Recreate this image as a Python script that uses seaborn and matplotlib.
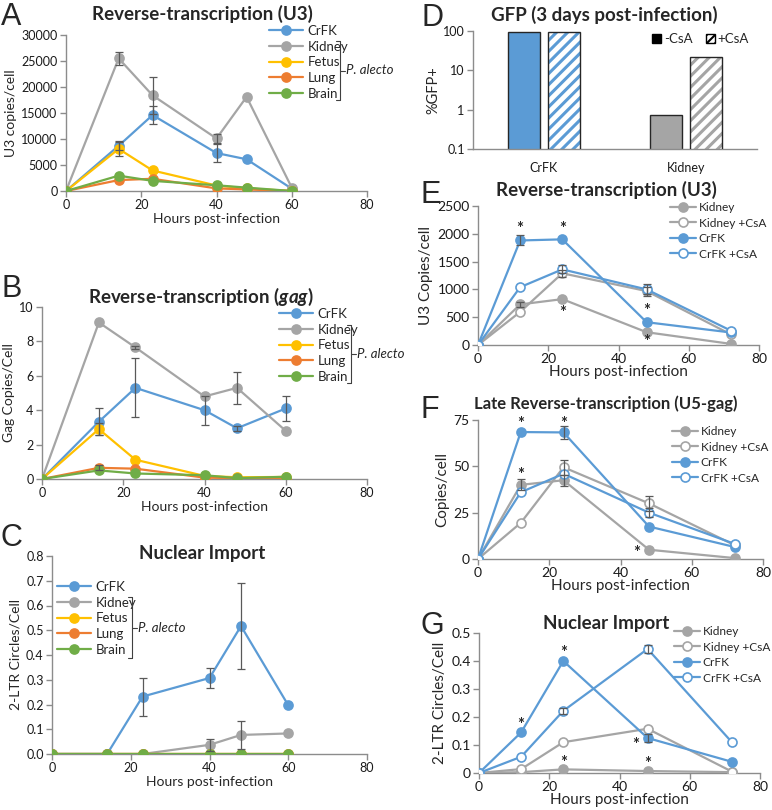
import numpy as np
import pandas as pd
import matplotlib
matplotlib.use("Agg")
import matplotlib.pyplot as plt
import matplotlib.patches as mpatches
from matplotlib.lines import Line2D
import seaborn as sns

sns.set_style("white")
plt.rcParams['font.family'] = ['Lato', 'DejaVu Sans']
plt.rcParams['mathtext.fontset'] = 'custom'
plt.rcParams['mathtext.rm'] = 'Lato'
plt.rcParams['mathtext.bf'] = 'Lato:bold'
plt.rcParams['mathtext.it'] = 'Lato:italic'
plt.rcParams['mathtext.bfit'] = 'Lato:bold:italic'
plt.rcParams['hatch.linewidth'] = 2.2

# colores tipo Excel
BLUE = '#5B9BD5'
GREY = '#A5A5A5'
YELLOW = '#FFC000'
ORANGE = '#ED7D31'
GREEN = '#70AD47'
ERR = '#595959'
AXC = '#8C8C8C'

# ---------------- datos ----------------
tissues = ['CrFK', 'Kidney', 'Fetus', 'Lung', 'Brain']
tissue_colors = [BLUE, GREY, YELLOW, ORANGE, GREEN]
hours_abc = [0, 14, 23, 40, 48, 60]

# Panel A: U3 copias/celula
u3_a = {
    'CrFK':   [0, 8700, 14600, 7300, 6100, 450],
    'Kidney': [0, 25500, 18400, 10100, 18100, 650],
    'Fetus':  [0, 8100, 3950, 1050, 500, 0],
    'Lung':   [0, 2100, 2350, 500, 300, 0],
    'Brain':  [0, 2950, 1950, 1100, 650, 0],
}
u3_a_err = {
    'CrFK':   [0, 900, 1700, 1700, 0, 0],
    'Kidney': [0, 1300, 3500, 800, 0, 0],
    'Fetus':  [0, 1300, 0, 0, 0, 0],
}

# Panel B: gag copias/celula
gag_b = {
    'CrFK':   [0, 3.33, 5.3, 4.0, 2.95, 4.1],
    'Kidney': [0, 9.1, 7.65, 4.8, 5.3, 2.8],
    'Fetus':  [0, 2.9, 1.12, 0.18, 0.1, 0.12],
    'Lung':   [0, 0.65, 0.6, 0.08, 0.05, 0.02],
    'Brain':  [0, 0.5, 0.32, 0.22, 0.05, 0.13],
}
gag_b_err = {
    'CrFK':   [0, 0.8, 1.72, 0.85, 0.15, 0.7],
    'Kidney': [0, 0, 0.1, 0, 0.95, 0],
    'Fetus':  [0, 0.35, 0, 0, 0, 0],
    'Lung':   [0, 0.15, 0, 0, 0, 0],
}

# Panel C: 2-LTR
ltr_c = {
    'CrFK':   [0, 0, 0.232, 0.307, 0.517, 0.197],
    'Kidney': [0, 0, 0, 0.037, 0.077, 0.083],
    'Fetus':  [0, 0, 0, 0, 0, 0],
    'Lung':   [0, 0, 0, 0, 0, 0],
    'Brain':  [0, 0, 0, 0, 0, 0],
}
ltr_c_err = {
    'CrFK':   [0, 0, 0.077, 0.04, 0.173, 0],
    'Kidney': [0, 0, 0, 0.025, 0.055, 0],
}

# Panel D: %GFP+
gfp_cells = ['CrFK', 'CrFK', 'Kidney', 'Kidney']
gfp_treat = ['-CsA', '+CsA', '-CsA', '+CsA']
gfp_vals = [95, 96, 0.72, 21.5]

# Paneles E-G
hours_efg = [0, 12, 24, 48, 72]
conds = ['Kidney', 'Kidney +CsA', 'CrFK', 'CrFK +CsA']
cond_colors = [GREY, GREY, BLUE, BLUE]
cond_open = [False, True, False, True]

u3_e = {
    'Kidney':      [0, 730, 825, 230, 20],
    'Kidney +CsA': [0, 595, 1290, 970, 190],
    'CrFK':        [0, 1880, 1900, 410, 225],
    'CrFK +CsA':   [0, 1040, 1360, 1000, 258],
}
u3_e_err = {
    'Kidney':      [0, 40, 0, 0, 0],
    'Kidney +CsA': [0, 0, 60, 80, 0],
    'CrFK':        [0, 90, 0, 0, 0],
    'CrFK +CsA':   [0, 0, 70, 90, 0],
}
u3_e_stars = [(12, 2080), (24, 2080), (24, 580), (48, 620), (48, 60)]

late_f = {
    'Kidney':      [0, 40, 42.5, 5, 0.5],
    'Kidney +CsA': [0, 19.5, 49.5, 30, 7.5],
    'CrFK':        [0, 68.5, 68.3, 17.5, 6.5],
    'CrFK +CsA':   [0, 36, 46, 25, 8.2],
}
late_f_err = {
    'Kidney':      [0, 3, 3, 0, 0],
    'Kidney +CsA': [0, 0, 4, 4, 0],
    'CrFK':        [0, 0, 3.5, 0, 0],
    'CrFK +CsA':   [0, 0, 0, 2.5, 0],
}
late_f_stars = [(12, 73), (24, 73), (12, 45.5), (44.5, 3.5)]

ltr_g = {
    'Kidney':      [0, 0.003, 0.013, 0.007, 0.003],
    'Kidney +CsA': [0, 0.014, 0.11, 0.158, 0.005],
    'CrFK':        [0, 0.145, 0.4, 0.125, 0.04],
    'CrFK +CsA':   [0, 0.058, 0.222, 0.443, 0.11],
}
ltr_g_err = {
    'CrFK':        [0, 0, 0, 0.015, 0],
    'CrFK +CsA':   [0, 0, 0.01, 0.015, 0],
}
ltr_g_stars = [(12, 0.172), (24, 0.427), (44.5, 0.1), (24, 0.035), (48, 0.032)]

# ---------------- figura ----------------
W, H = 772, 810
fig = plt.figure(figsize=(W / 100, H / 100), dpi=100)


def add_ax(left, right, top, bottom):
    return fig.add_axes([left / W, 1 - bottom / H, (right - left) / W, (bottom - top) / H])


def style_ax(ax, labelsize=9):
    sns.despine(ax=ax)
    for s in ['left', 'bottom']:
        ax.spines[s].set_color(AXC)
        ax.spines[s].set_linewidth(1.0)
    ax.tick_params(axis='both', direction='out', length=4, width=1, color=AXC,
                   labelsize=labelsize, labelcolor='#1a1a1a', pad=2, left=True, bottom=True)


def ftext(x, y, s, **kw):
    fig.text(x / W, 1 - y / H, s, **kw)


def draw_series(ax, x, data, errs, names, colors, opens=None, ms=6.5):
    for i, name in enumerate(names):
        y = data[name]
        face = 'white' if (opens is not None and opens[i]) else colors[i]
        sns.lineplot(x=x, y=y, ax=ax, color=colors[i], marker='o', markersize=ms,
                     markerfacecolor=face, markeredgecolor=colors[i], markeredgewidth=1.2,
                     linewidth=1.6, label=name, legend=False, zorder=3)
        if name in errs:
            e = np.array(errs[name], dtype=float)
            m = e > 0
            ax.errorbar(np.array(x)[m], np.array(y, dtype=float)[m], yerr=e[m], fmt='none',
                        ecolor=ERR, elinewidth=0.9, capsize=3, capthick=0.9, zorder=4)


def legend_lines(ax, names, colors, opens, loc_px, ax_box, spacing, fs=9.5, hl=2.6, tp=0.3):
    handles = []
    for i, n in enumerate(names):
        face = 'white' if (opens is not None and opens[i]) else colors[i]
        handles.append(Line2D([0], [0], color=colors[i], lw=1.6, marker='o', markersize=6.5,
                              markerfacecolor=face, markeredgecolor=colors[i], markeredgewidth=1.2))
    left, right, top, bottom = ax_box
    bx = (loc_px[0] - left) / (right - left)
    by = (bottom - loc_px[1]) / (bottom - top)
    ax.legend(handles, names, loc='upper left', bbox_to_anchor=(bx, by), frameon=False,
              fontsize=fs, handlelength=hl, handletextpad=tp, labelspacing=spacing,
              borderaxespad=0, borderpad=0)


def bracket(xv, y0, y1, tx):
    ym = (y0 + y1) / 2
    segs = [([xv - 4, xv], [y0, y0]), ([xv, xv], [y0, y1]), ([xv - 4, xv], [y1, y1]),
            ([xv, xv + 5], [ym, ym])]
    for xs, ys in segs:
        fig.add_artist(Line2D([v / W for v in xs], [1 - v / H for v in ys],
                              color='#404040', lw=0.8))
    ftext(tx, ym, 'P. alecto', fontsize=9.5, style='italic', va='center', ha='left')


TITLE_KW = dict(fontsize=13.5, fontweight='bold', ha='center', va='center')
LET_KW = dict(fontsize=22, ha='left', va='top', family=['Liberation Sans', 'DejaVu Sans'])

# ---- Panel A ----
boxA = (66, 367, 35, 191)
axA = add_ax(*boxA)
draw_series(axA, hours_abc, u3_a, u3_a_err, tissues, tissue_colors)
axA.set_xlim(0, 80)
axA.set_ylim(0, 30000)
axA.set_xticks([0, 20, 40, 60, 80])
axA.set_yticks(range(0, 30001, 5000))
axA.set_xlabel('Hours post-infection', fontsize=10, labelpad=1)
axA.set_ylabel('U3 copies/cell', fontsize=10, labelpad=3)
style_ax(axA)
legend_lines(axA, tissues, tissue_colors, None, (269, 25), boxA, 0.28)
bracket(340, 41, 100, 346)
ftext(202, 14, 'Reverse-transcription (U3)', **TITLE_KW)
ftext(1, 2, 'A', **LET_KW)

# ---- Panel B ----
boxB = (42, 367, 307, 479)
axB = add_ax(*boxB)
draw_series(axB, hours_abc, gag_b, gag_b_err, tissues, tissue_colors)
axB.set_xlim(0, 80)
axB.set_ylim(0, 10)
axB.set_xticks([0, 20, 40, 60, 80])
axB.set_yticks(range(0, 11, 2))
axB.set_xlabel('Hours post-infection', fontsize=10, labelpad=1)
axB.set_ylabel('Gag Copies/Cell', fontsize=10, labelpad=3)
style_ax(axB)
legend_lines(axB, tissues, tissue_colors, None, (279, 308), boxB, 0.28)
bracket(351, 325, 383, 357)
ftext(201, 297, r'Reverse-transcription ($\mathbfit{gag}$)', **TITLE_KW)
ftext(1, 274, 'B', **LET_KW)

# ---- Panel C ----
boxC = (52, 367, 556, 754)
axC = add_ax(*boxC)
draw_series(axC, hours_abc, ltr_c, ltr_c_err, tissues, tissue_colors)
axC.set_xlim(0, 80)
axC.set_ylim(0, 0.8)
axC.set_xticks([0, 20, 40, 60, 80])
axC.set_yticks(np.arange(0, 0.81, 0.1))
axC.yaxis.set_major_formatter(matplotlib.ticker.FormatStrFormatter('%.1f'))
axC.set_xlabel('Hours post-infection', fontsize=10, labelpad=1)
axC.set_ylabel('2-LTR Circles/Cell', fontsize=10, labelpad=3)
style_ax(axC)
legend_lines(axC, tissues, tissue_colors, None, (57, 581), boxC, 0.28)
bracket(132, 597, 658, 138)
ftext(202, 553, 'Nuclear Import', **TITLE_KW)
ftext(1, 523, 'C', **LET_KW)

# ---- Panel D ----
boxD = (473, 757, 31, 149)
axD = add_ax(*boxD)
gfp_df = pd.DataFrame({'cell': gfp_cells, 'treat': gfp_treat, 'gfp': gfp_vals})
sns.barplot(data=gfp_df, x='cell', y='gfp', hue='treat', ax=axD, width=0.56, gap=0.2,
            palette=['#333333', '#777777'], legend=False, log_scale=True, zorder=2)
axD.set_yscale('log')
axD.set_ylim(0.1, 100)
axD.set_xlim(-0.5, 1.5)
axD.set_yticks([0.1, 1, 10, 100])
axD.set_yticklabels(['0.1', '1', '10', '100'])
axD.yaxis.set_minor_locator(matplotlib.ticker.NullLocator())
axD.set_xticks([0, 1])
axD.set_xticklabels(['CrFK', 'Kidney'])
axD.set_xlabel('')
axD.set_ylabel('%GFP+', fontsize=10.5, labelpad=2)
style_ax(axD)
axD.tick_params(axis='x', length=0, pad=9)
axD.set_xticks([-0.5, 0.5, 1.5], minor=True)
axD.tick_params(axis='x', which='minor', length=4, color=AXC, width=1)
bar_cols = {'CrFK': BLUE, 'Kidney': GREY}
bars = sorted(axD.patches, key=lambda p: p.get_x())
for p, cell, treat in zip(bars, gfp_cells, gfp_treat):
    c = bar_cols[cell]
    if treat == '-CsA':
        p.set_facecolor(c)
        p.set_edgecolor('#262626')
        p.set_linewidth(1.0)
    else:
        p.set_facecolor('white')
        p.set_edgecolor(c)
        p.set_hatch('///')
        p.set_linewidth(0)
        outline = mpatches.Rectangle((p.get_x(), p.get_y()), p.get_width(), p.get_height(),
                                     fill=False, edgecolor='#262626', lw=1.0, zorder=3)
        axD.add_patch(outline)
plt.rcParams['hatch.linewidth'] = 1.5
legD = [mpatches.Patch(facecolor='black', edgecolor='black', label='-CsA'),
        mpatches.Patch(facecolor='white', edgecolor='black', hatch='////', label='+CsA')]
axD.legend(handles=legD, loc='upper right', bbox_to_anchor=(0.99, 1.03), ncol=2, frameon=False,
           fontsize=9.5, handlelength=0.7, handleheight=0.7, handletextpad=0.2, columnspacing=1.0,
           borderaxespad=0)
ftext(604, 15, 'GFP (3 days post-infection)', **TITLE_KW)
ftext(421, 3, 'D', **LET_KW)


def panel_efg(box, data, errs, stars, ylim, yticks, ylabel, title, title_y, letter, letter_y,
              leg_px, fmt=None, title_fs=13.5):
    ax = add_ax(*box)
    draw_series(ax, hours_efg, data, errs, conds, cond_colors, cond_open, ms=6.5)
    for sx, sy in stars:
        ax.text(sx, sy, '*', ha='center', va='center', fontsize=12, fontweight='bold')
    ax.set_xlim(0, 80)
    ax.set_ylim(*ylim)
    ax.set_xticks([0, 20, 40, 60, 80])
    ax.set_yticks(yticks)
    if fmt is not None:
        ax.yaxis.set_major_formatter(matplotlib.ticker.FuncFormatter(fmt))
    ax.set_xlabel('Hours post-infection', fontsize=11, labelpad=0)
    ax.set_ylabel(ylabel, fontsize=11, labelpad=3)
    style_ax(ax, labelsize=10)
    legend_lines(ax, conds, cond_colors, cond_open, leg_px, box, 0.38, fs=8.6, hl=2.2, tp=0.2)
    ftext(606, title_y, title, fontsize=title_fs, fontweight='bold', ha='center', va='center')
    ftext(420, letter_y, letter, **LET_KW)
    return ax


panel_efg((478, 759, 206, 345), u3_e, u3_e_err, u3_e_stars, (0, 2500), range(0, 2501, 500),
          'U3 Copies/cell', 'Reverse-transcription (U3)', 190, 'E', 180, (670, 202))
panel_efg((478, 763, 420, 559), late_f, late_f_err, late_f_stars, (0, 75), [0, 25, 50, 75],
          'Copies/cell', 'Late Reverse-transcription (U5-gag)', 404, 'F', 395, (672, 426),
          title_fs=12)
panel_efg((479, 760, 633, 773), ltr_g, ltr_g_err, ltr_g_stars, (0, 0.5), np.arange(0, 0.51, 0.1),
          '2-LTR Circles/Cell', 'Nuclear Import', 623, 'G', 611, (674, 626),
          fmt=lambda v, pos: '0' if abs(v) < 1e-9 else f'{v:.1f}')

fig.savefig('out.png', dpi=100)
